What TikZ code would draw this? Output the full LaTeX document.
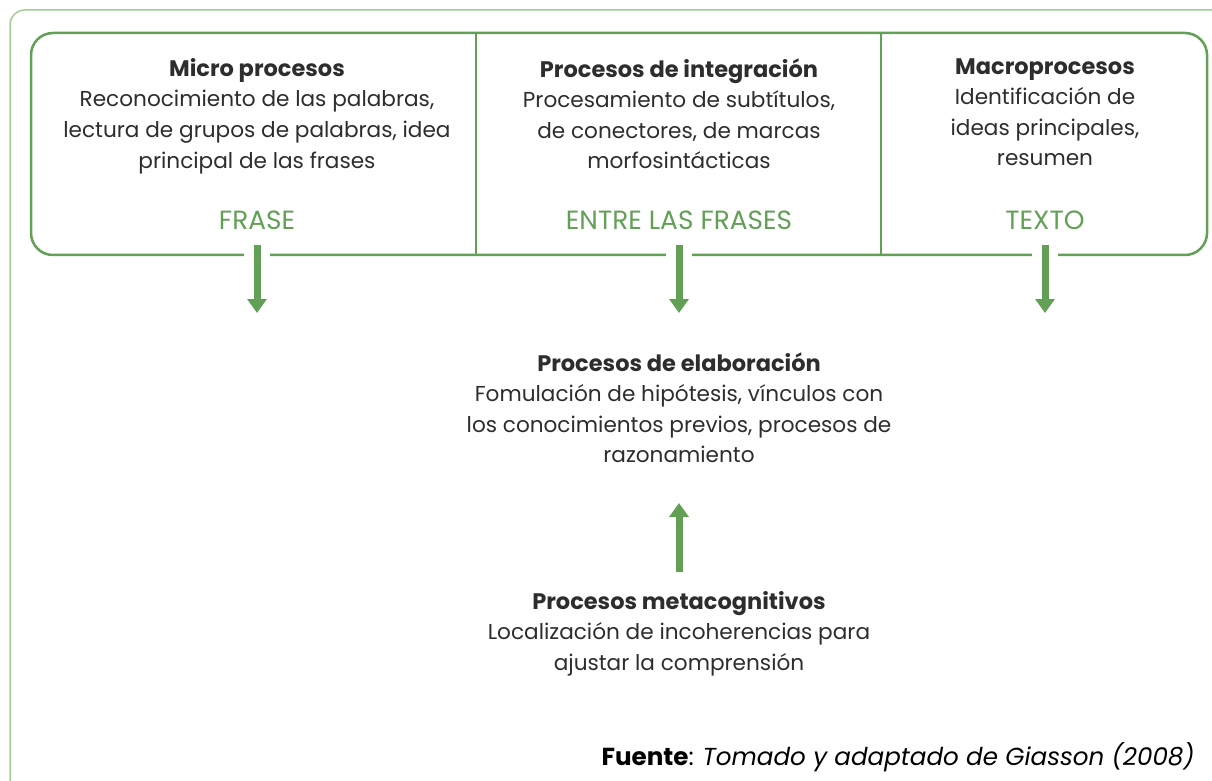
\documentclass[tikz,border=0pt]{standalone}
\usepackage{fontspec}
\setmainfont{Poppins}
\usetikzlibrary{arrows.meta}
\definecolor{verde}{RGB}{98,160,86}
\definecolor{verdeclaro}{RGB}{162,206,152}
\definecolor{texto}{RGB}{45,45,45}
\newcommand{\titulo}[1]{{\fontsize{12.8}{17.4}\selectfont\bfseries #1}}

\begin{document}
\begin{tikzpicture}[x=0.02cm, y=-0.02cm,
    frame_style/.style={draw=verdeclaro, line width=0.03cm, rounded corners=0.3cm},
    box_style/.style={draw=verde, line width=0.05cm, rounded corners=0.44cm},
    block_style/.style={anchor=north, align=center, inner sep=0pt, text=texto,
        font=\fontsize{12.3}{17.4}\selectfont},
    level_style/.style={text=verde, inner sep=0pt, font=\fontsize{15}{17}\selectfont},
    gap_style/.style={draw=white, line width=0.52cm},
    arrow_style/.style={draw=verde, line width=0.14cm, -{Triangle[width=0.38cm, length=0.28cm]}}]

    \useasboundingbox (0,0) rectangle (1212,780);

    % marco exterior
    \draw[frame_style] (1230,10) -- (10,10) -- (10,800);

    % caja superior
    \draw[box_style] (31,33) rectangle (1207,255);
    \draw[draw=verde, line width=0.05cm] (476,33) -- (476,255);
    \draw[draw=verde, line width=0.05cm] (881,33) -- (881,255);

    % columnas
    \node[block_style] (micro) at (257,58) {\titulo{Micro procesos}\\
        Reconocimiento de las palabras,\\ lectura de grupos de palabras, idea\\ principal de las frases};
    \node[block_style] (integra) at (679,58) {\titulo{Procesos de integración}\\
        Procesamiento de subtítulos,\\ de conectores, de marcas\\ morfosintácticas};
    \node[block_style] (macro) at (1045,58) {\titulo{Macroprocesos}\\
        Identificación de\\ ideas principales,\\ resumen};

    \node[level_style] (frase) at (257,220) {FRASE};
    \node[level_style] (entre) at (679,220) {ENTRE LAS FRASES};
    \node[level_style] (textolvl) at (1045,220) {TEXTO};

    % flechas hacia abajo
    \coordinate (a1) at (257,245);
    \coordinate (b1) at (257,313);
    \coordinate (a2) at (679,245);
    \coordinate (b2) at (679,313);
    \coordinate (a3) at (1045,245);
    \coordinate (b3) at (1045,313);
    \draw[gap_style] (257,250) -- (257,262);
    \draw[gap_style] (679,250) -- (679,262);
    \draw[gap_style] (1045,250) -- (1045,262);
    \draw[arrow_style] (a1) -- (b1);
    \draw[arrow_style] (a2) -- (b2);
    \draw[arrow_style] (a3) -- (b3);

    % elaboracion y metacognicion
    \node[block_style] (elabora) at (679,352) {\titulo{Procesos de elaboración}\\
        Fomulación de hipótesis, vínculos con\\ los conocimientos previos, procesos de\\ razonamiento};
    \node[block_style] (meta) at (679,591) {\titulo{Procesos metacognitivos}\\
        Localización de incoherencias para\\ ajustar la comprensión};

    \coordinate (c1) at (679,572);
    \coordinate (c2) at (679,503);
    \draw[arrow_style] (c1) -- (c2);

    % fuente
    \node[anchor=east, text=black, inner sep=0pt, font=\fontsize{14}{17}\selectfont] (fuente) at (1195,757)
        {\textbf{Fuente}: \textit{Tomado y adaptado de Giasson (2008)}};
\end{tikzpicture}
\end{document}
